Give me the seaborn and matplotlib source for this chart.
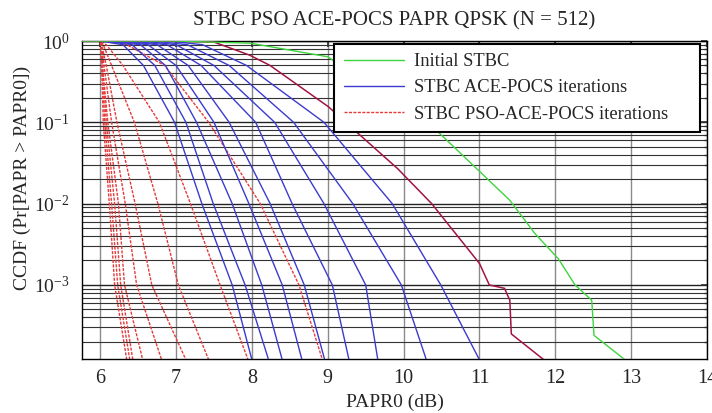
import numpy as np
import pandas as pd
import matplotlib
matplotlib.use("Agg")
import matplotlib.pyplot as plt
import seaborn as sns
from matplotlib.lines import Line2D
from matplotlib.ticker import LogLocator, LogFormatterMathtext, NullFormatter, FixedLocator

# ---------------- data ----------------
ccdf_levels = [1.0, 0.9, 0.5, 0.1, 0.01, 1e-3, 1.2e-4]

# STBC PSO-ACE-POCS iterations (PAPR0 in dB at each ccdf level)
pso_r1 = [6.00, 6.01, 6.02, 6.04, 6.12, 6.19, 6.35]
pso_r2 = [6.00, 6.01, 6.02, 6.06, 6.15, 6.23, 6.39]
pso_r3 = [6.00, 6.01, 6.03, 6.08, 6.19, 6.27, 6.43]
pso_r4 = [6.00, 6.01, 6.03, 6.10, 6.24, 6.32, 6.56]
pso_r5 = [6.00, 6.02, 6.05, 6.15, 6.33, 6.48, 6.81]
pso_r6 = [6.00, 6.02, 6.08, 6.22, 6.46, 6.68, 7.13]
pso_r7 = [6.00, 6.04, 6.15, 6.45, 6.76, 7.03, 7.43]
pso_r8 = [6.02, 6.08, 6.30, 6.78, 7.19, 7.58, 7.95]
pso_r9 = [6.15, 6.35, 6.85, 7.43, 8.11, 8.62, 8.93]
pso_curves = [pso_r1, pso_r2, pso_r3, pso_r4, pso_r5, pso_r6, pso_r7, pso_r8, pso_r9]

# STBC ACE-POCS iterations
ace_b1 = [6.00, 6.30, 6.57, 6.98, 7.34, 7.74, 8.00]
ace_b2 = [6.05, 6.42, 6.72, 7.13, 7.49, 7.91, 8.22]
ace_b3 = [6.10, 6.53, 6.86, 7.27, 7.74, 8.13, 8.40]
ace_b4 = [6.20, 6.63, 7.00, 7.50, 7.96, 8.40, 8.66]
ace_b5 = [6.30, 6.75, 7.16, 7.70, 8.24, 8.69, 8.96]
ace_b6 = [6.40, 6.88, 7.33, 8.05, 8.53, 9.06, 9.28]
ace_b7 = [6.55, 7.00, 7.50, 8.30, 8.95, 9.50, 9.66]
ace_b8 = [6.70, 7.15, 7.70, 8.55, 9.33, 9.97, 10.30]
ace_b9 = [6.90, 7.35, 7.93, 8.95, 9.85, 10.49, 11.00]
ace_curves = [ace_b1, ace_b2, ace_b3, ace_b4, ace_b5, ace_b6, ace_b7, ace_b8, ace_b9]

# first iteration (overlapping curves, drawn dark red)
first_iter_ccdf = [1.0, 0.97, 0.67, 0.5, 0.155, 0.069, 0.027, 0.01, 1.84e-3, 1e-3, 9.1e-4, 6.5e-4, 2.5e-4, 1.2e-4]
first_iter_papr = [7.0, 7.5, 7.97, 8.24, 9.01, 9.43, 9.92, 10.37, 11.0, 11.13, 11.33, 11.40, 11.42, 11.85]

# Initial STBC
initial_ccdf = [1.0, 0.98, 0.94, 0.64, 0.077, 0.011, 4.3e-3, 2.1e-3, 1e-3, 6.5e-4, 2.4e-4, 1.2e-4]
initial_papr = [7.0, 7.3, 7.98, 9.0, 10.45, 11.40, 11.73, 12.04, 12.26, 12.48, 12.51, 12.92]

x_ticks = [6, 7, 8, 9, 10, 11, 12, 13, 14]
X_MIN, X_MAX = 5.76, 14.0
Y_MIN, Y_MAX = 1.23e-4, 1.0

# ---------------- style ----------------
sns.set_theme(style="white")
plt.rcParams["font.family"] = ["Liberation Serif", "DejaVu Serif"]
plt.rcParams["mathtext.fontset"] = "custom"
plt.rcParams["mathtext.rm"] = "Liberation Serif"
plt.rcParams["mathtext.it"] = "Liberation Serif:italic"
plt.rcParams["mathtext.bf"] = "Liberation Serif:bold"
plt.rcParams["axes.unicode_minus"] = True

GREEN = "#3fd43f"
BLUE = "#3b3bcf"
RED = "#e63b3b"
MAROON = "#a3143f"
RED_DASH = (0, (2.2, 1.0))

fig, ax = plt.subplots(figsize=(7.12, 4.13), dpi=100)
fig.subplots_adjust(left=0.1152, right=0.993, bottom=0.1308, top=0.9007)


def draw(xs, ps, color, ls, lw=1.0, z=2):
    df = pd.DataFrame({"papr": [X_MIN - 0.5] + list(xs), "ccdf": [1.0] + list(ps)})
    sns.lineplot(data=df, x="papr", y="ccdf", ax=ax, color=color, linestyle=ls,
                 linewidth=lw, estimator=None, sort=False, legend=False, zorder=z)


for c in pso_curves:
    draw(c, ccdf_levels, RED, RED_DASH, 1.0, 2)
for c in ace_curves:
    draw(c, ccdf_levels, BLUE, "-", 1.0, 3)
draw(first_iter_papr, first_iter_ccdf, MAROON, "-", 1.1, 4)
draw(initial_papr, initial_ccdf, GREEN, "-", 1.0, 5)

ax.set_yscale("log")
ax.set_xlim(X_MIN, X_MAX)
ax.set_ylim(Y_MIN, Y_MAX)
ax.xaxis.set_major_locator(FixedLocator(x_ticks))
ax.yaxis.set_major_locator(LogLocator(base=10, numticks=10))
ax.yaxis.set_minor_locator(LogLocator(base=10, subs=np.arange(2, 10), numticks=20))
ax.yaxis.set_major_formatter(LogFormatterMathtext())
ax.yaxis.set_minor_formatter(NullFormatter())

ax.grid(which="major", axis="x", color="#8a8a8a", linewidth=1.0)
ax.grid(which="major", axis="y", color="#222222", linewidth=1.0)
ax.grid(which="minor", axis="y", color="#333333", linewidth=0.8)
ax.set_axisbelow(True)

for s in ax.spines.values():
    s.set_color("black")
    s.set_linewidth(1.0)
ax.tick_params(which="both", direction="in", top=True, right=True, color="#333333")
ax.tick_params(axis="x", which="major", labelsize=14.5, pad=7, length=4)
ax.tick_params(axis="y", which="major", labelsize=14, pad=9, length=4)
ax.tick_params(axis="y", which="minor", length=2)

ax.set_title("STBC PSO ACE-POCS PAPR QPSK (N = 512)", fontsize=15, pad=11)
ax.set_xlabel("PAPR0 (dB)", fontsize=14, labelpad=4)
ax.set_ylabel("CCDF (Pr[PAPR > PAPR0])", fontsize=14)
ax.yaxis.set_label_coords(-0.082, 0.57)

handles = [
    Line2D([], [], color=GREEN, lw=1.0),
    Line2D([], [], color=BLUE, lw=1.0),
    Line2D([], [], color=RED, lw=1.0, linestyle=RED_DASH),
]
labels = ["Initial STBC", "STBC ACE-POCS iterations", "STBC PSO-ACE-POCS iterations     "]
leg = ax.legend(handles, labels, loc="upper right", bbox_to_anchor=(0.989, 0.991),
                borderaxespad=0, fontsize=13.3, frameon=True, fancybox=False,
                framealpha=1, edgecolor="black", handlelength=3.25,
                handletextpad=0.54, labelspacing=0.5, borderpad=0.5)
leg.get_frame().set_linewidth(1.5)
leg.set_zorder(10)

fig.savefig("out.png", dpi=100)
